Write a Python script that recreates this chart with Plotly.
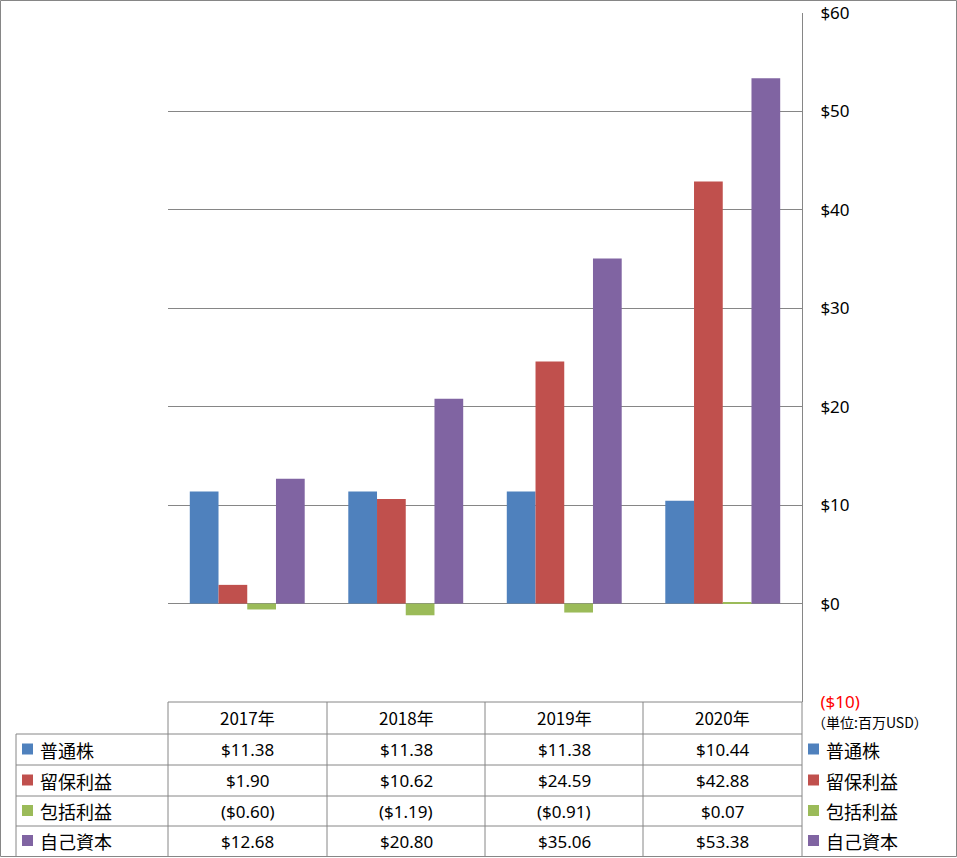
import plotly.graph_objects as go

years = ["2017年", "2018年", "2019年", "2020年"]
series_names = ["普通株", "留保利益", "包括利益", "自己資本"]
common_stock = [11.38, 11.38, 11.38, 10.44]
retained_earnings = [1.90, 10.62, 24.59, 42.88]
comprehensive_income = [-0.60, -1.19, -0.91, 0.07]
equity = [12.68, 20.80, 35.06, 53.38]
colors = ["#4F81BD", "#C0504D", "#9BBB59", "#8064A2"]
tick_vals = [-10, 0, 10, 20, 30, 40, 50, 60]
tick_text = ["<span style='color:#FF0000'>($10)</span>", "$0", "$10", "$20", "$30", "$40", "$50", "$60"]
unit_label = "（単位:百万USD）"

series_values = [common_stock, retained_earnings, comprehensive_income, equity]

W, H = 957, 858
L, R, T, B = 168, 155, 13, 156
PW, PH = W - L - R, H - T - B


def xp(px):
    return (px - L) / PW


def yp(py):
    return (H - B - py) / PH


def fmt(v):
    return f"(${abs(v):.2f})" if v < 0 else f"${v:.2f}"


JP = "Noto Sans CJK JP, Noto Sans, sans-serif"
NUM = "Noto Sans, Open Sans, sans-serif"
GRID = "#868686"

fig = go.Figure()
for name, vals, c in zip(series_names, series_values, colors):
    fig.add_trace(go.Bar(x=years, y=vals, name=name, marker=dict(color=c, line=dict(width=0)),
                         showlegend=False, hoverinfo="skip"))

shapes = []
annotations = []

# outer frame
shapes.append(dict(type="rect", xref="paper", yref="paper", x0=xp(0.5), x1=xp(956.5),
                   y0=yp(856.5), y1=yp(0.5), line=dict(color=GRID, width=1)))

# table lines
col_x = [168, 327, 485, 643, 802]
row_y = [702, 734, 765, 796, 826, 856]
for cx in col_x:
    shapes.append(dict(type="line", xref="paper", yref="paper", x0=xp(cx), x1=xp(cx),
                       y0=yp(702), y1=yp(856), line=dict(color=GRID, width=1)))
shapes.append(dict(type="line", xref="paper", yref="paper", x0=xp(16), x1=xp(16),
                   y0=yp(734), y1=yp(856), line=dict(color=GRID, width=1)))
for i, ry in enumerate(row_y[:-1]):
    x0 = 168 if i == 0 else 16
    shapes.append(dict(type="line", xref="paper", yref="paper", x0=xp(x0), x1=xp(802),
                       y0=yp(ry), y1=yp(ry), line=dict(color=GRID, width=1)))

# header
for j, yr in enumerate(years):
    cxm = (col_x[j] + col_x[j + 1]) / 2
    annotations.append(dict(xref="paper", yref="paper", x=xp(cxm), y=yp(718), text=yr,
                            showarrow=False, xanchor="center", yanchor="middle",
                            font=dict(family=JP, size=17, color="#000")))

# rows
for i, (name, vals, c) in enumerate(zip(series_names, series_values, colors)):
    cy = (row_y[i + 1] + row_y[i + 2]) / 2
    for j, v in enumerate(vals):
        cxm = (col_x[j] + col_x[j + 1]) / 2
        annotations.append(dict(xref="paper", yref="paper", x=xp(cxm), y=yp(cy), text=fmt(v),
                                showarrow=False, xanchor="center", yanchor="middle",
                                font=dict(family=NUM, size=17, color="#000")))
    for sx, tx in ((22, 38), (808, 824)):
        shapes.append(dict(type="rect", xref="paper", yref="paper", x0=xp(sx), x1=xp(sx + 11),
                           y0=yp(cy + 5), y1=yp(cy - 6), fillcolor=c, line=dict(width=0)))
        annotations.append(dict(xref="paper", yref="paper", x=xp(tx), y=yp(cy), text=name,
                                showarrow=False, xanchor="left", yanchor="middle",
                                font=dict(family=JP, size=18, color="#000")))

annotations.append(dict(xref="paper", yref="paper", x=xp(810), y=yp(722), text=unit_label,
                        showarrow=False, xanchor="left", yanchor="middle",
                        font=dict(family=JP, size=14, color="#000")))

fig.update_layout(
    width=W, height=H,
    margin=dict(l=L, r=R, t=T, b=B, pad=0, autoexpand=False),
    paper_bgcolor="white", plot_bgcolor="white",
    barmode="group", bargap=0.275, bargroupgap=0,
    shapes=shapes, annotations=annotations,
    xaxis=dict(showticklabels=False, showgrid=False, showline=False, zeroline=False, ticks="",
               automargin=False),
    yaxis=dict(side="right", range=[-10, 60], tickvals=tick_vals, ticktext=tick_text,
               showgrid=True, gridcolor=GRID, gridwidth=1, zeroline=True, zerolinecolor=GRID,
               zerolinewidth=1, showline=True, linecolor=GRID, linewidth=1, ticks="",
               automargin=False,
               ticklabelstandoff=14, tickfont=dict(family=NUM, size=17, color="#000")),
    font=dict(family=JP),
    hovermode=False,
)

fig.write_html(
    "out.html",
    config={"displayModeBar": False},
    post_script="document.body.style.margin='0';document.body.style.padding='0';"
                "document.documentElement.style.margin='0';",
)
